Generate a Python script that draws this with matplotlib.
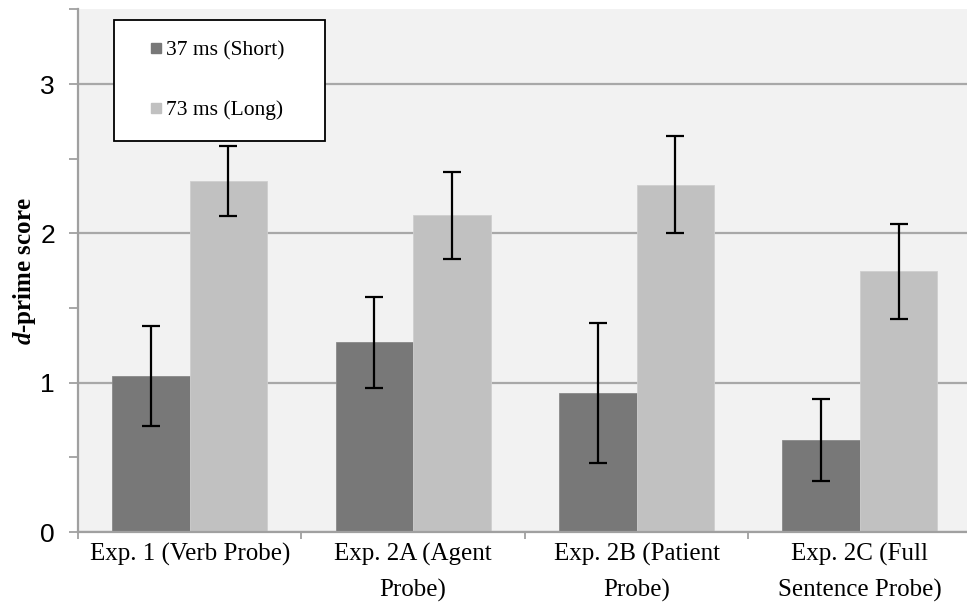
import matplotlib.pyplot as plt
from matplotlib.lines import Line2D
import numpy as np

# d-prime scores
categories = ["Exp. 1 (Verb Probe)", "Exp. 2A (Agent\nProbe)",
              "Exp. 2B (Patient\nProbe)", "Exp. 2C (Full\nSentence Probe)"]
short_vals = [1.045, 1.27, 0.93, 0.615]
short_err = [0.335, 0.305, 0.47, 0.275]
long_vals = [2.35, 2.12, 2.325, 1.745]
long_err = [0.235, 0.29, 0.325, 0.32]
series_names = ["37 ms (Short)", "73 ms (Long)"]
colors = ["#787878", "#c1c1c1"]

serif = ["Liberation Serif", "DejaVu Serif"]
plt.rcParams["mathtext.fontset"] = "custom"
plt.rcParams["mathtext.it"] = "Liberation Serif:italic:bold"

fig = plt.figure(figsize=(9.67, 6.10), dpi=100)
ax = fig.add_axes([78 / 967, 78 / 610, (971.6 - 78) / 967, (532 - 9.4) / 610])
ax.set_facecolor("#f2f2f2")

x = np.arange(len(categories))
w = 0.347
ekw = dict(ecolor="black", elinewidth=1.6, capsize=6.5, capthick=1.6)
ax.bar(x - w / 2, short_vals, w, color=colors[0], edgecolor="#8a8a8a", linewidth=0.6,
       yerr=short_err, error_kw=ekw, zorder=2)
ax.bar(x + w / 2, long_vals, w, color=colors[1], edgecolor="#cfcfcf", linewidth=0.6,
       yerr=long_err, error_kw=ekw, zorder=2)

ax.set_xlim(-0.5, 3.5)
ax.set_ylim(0, 3.5)
ax.set_yticks([0, 1, 2, 3])
ax.set_yticks([0.5, 1.5, 2.5, 3.5], minor=True)
ax.yaxis.grid(True, which="major", color="#a8a8a8", linewidth=1.6, zorder=0)
ax.set_axisbelow(True)

ax.set_xticks(x)
ax.set_xticklabels(categories, family=serif, fontsize=18, linespacing=1.7)
ax.set_xticks([-0.5, 0.5, 1.5, 2.5], minor=True)
ax.tick_params(axis="x", which="major", length=0, pad=8)
ax.tick_params(axis="x", which="minor", length=5, width=1.3, color="#a0a0a0", direction="out")
ax.tick_params(axis="y", which="both", length=6.5, width=1.3, color="#a0a0a0",
               direction="out", labelsize=19, pad=10)
for lab in ax.get_yticklabels():
    lab.set_family(["Liberation Sans", "DejaVu Sans"])

for s in ["top", "right"]:
    ax.spines[s].set_visible(False)
for s in ["left", "bottom"]:
    ax.spines[s].set_color("#a0a0a0")
    ax.spines[s].set_linewidth(1.6)

ax.set_ylabel(r"$\mathit{d}$-prime score", family=serif, fontsize=18,
              fontweight="bold", labelpad=2)

handles = [Line2D([], [], marker="s", linestyle="none", markersize=7.2,
                  markerfacecolor=c, markeredgecolor=c) for c in colors]
leg = ax.legend(handles, series_names, loc="upper left",
                bbox_to_anchor=(114 / 967, 1 - 20 / 610, (325 - 114) / 967, 0.0),
                bbox_transform=fig.transFigure, mode="expand", numpoints=1,
                prop={"family": serif, "size": 15.5}, frameon=True, fancybox=False,
                handlelength=2.04, handletextpad=-0.57,
                labelspacing=1.85, borderpad=0.95, borderaxespad=0)
leg.get_frame().set_edgecolor("black")
leg.get_frame().set_linewidth(1.3)
leg.get_frame().set_facecolor("white")
leg.get_frame().set_alpha(1)

fig.savefig("out.png", dpi=100)
